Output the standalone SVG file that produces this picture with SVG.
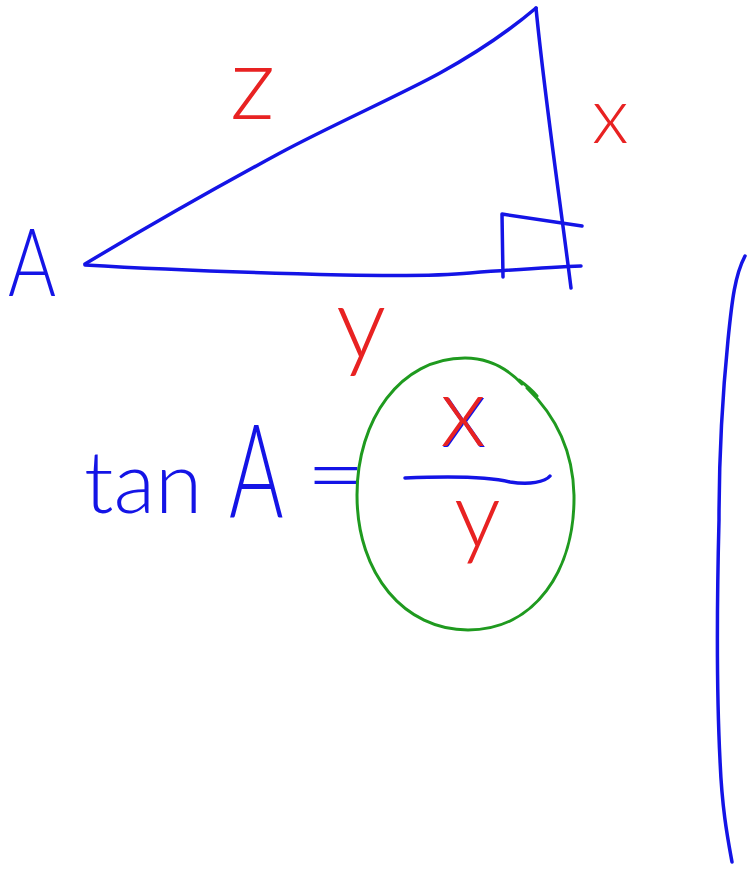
<svg xmlns="http://www.w3.org/2000/svg" width="747" height="869" viewBox="0 0 747 869">
<style>
.b{fill:none;stroke:#1414e6;stroke-width:3.5;stroke-linecap:round;stroke-linejoin:round}
.g{fill:none;stroke:#1f9a1f;stroke-width:3;stroke-linecap:round}
.tb{fill:#1414e6;font-family:"Lato","Liberation Sans",sans-serif;font-weight:300}
.tr{fill:#e82222;font-family:"Lato","Liberation Sans",sans-serif;font-weight:300}
</style>
<rect width="747" height="869" fill="#ffffff"/>
<g id="triangle">
<path class="b" d="M85,264 C150,225 230,180 280,153 S400,95 440,73 S510,30 536,8"/>
<path class="b" d="M536,8 C545,100 560,200 571,288"/>
<path class="b" d="M85,265 C170,270 260,273 343,275 C400,276 440,276 470,273 C510,270 550,267 581,266"/>
<path class="b" d="M503,277 L502,214 L582,226"/>
</g>
<g id="labels">
<text class="tb" x="8" y="296" font-size="94" transform="translate(8 0) scale(0.78 1) translate(-8 0)">A</text>
<text class="tr" x="230" y="119" font-size="102">z</text>
<text class="tr" x="592" y="143" font-size="78">x</text>
<text class="tr" x="336" y="358" font-size="100">y</text>
</g>
<g id="equation">
<text class="tb" x="84" y="513" font-size="86">tan</text>
<text class="tb" x="229" y="518" font-size="130" transform="translate(229 0) scale(0.64 1) translate(-229 0)">A</text>
<text class="tb" x="306" y="505" font-size="86" transform="translate(306 0) scale(1.2 1) translate(-306 0)">=</text>
<text x="440" y="447" font-size="98" class="tb"><tspan>x</tspan><tspan dx="-47" dy="-1" fill="#e82222">x</tspan></text>
<path class="b" d="M405,478 C450,476 490,477 510,482 C530,485 545,482 550,476"/>
<text class="tr" x="454" y="547" font-size="93">y</text>
<path class="g" d="M522,384 C505,366 487,358 465,358 C400,358 357,420 357,495 C357,575 405,630 468,630 C535,630 575,570 574,495 C573,450 555,415 527,388 M519,380 C526,385 532,390 537,396"/>
</g>
<g id="divider">
<path class="b" d="M745,256 C735,275 732,300 728,340 C722,400 719,460 719,520 C717,600 716,680 720,760 C722,810 728,840 732,862"/>
</g>
</svg>
